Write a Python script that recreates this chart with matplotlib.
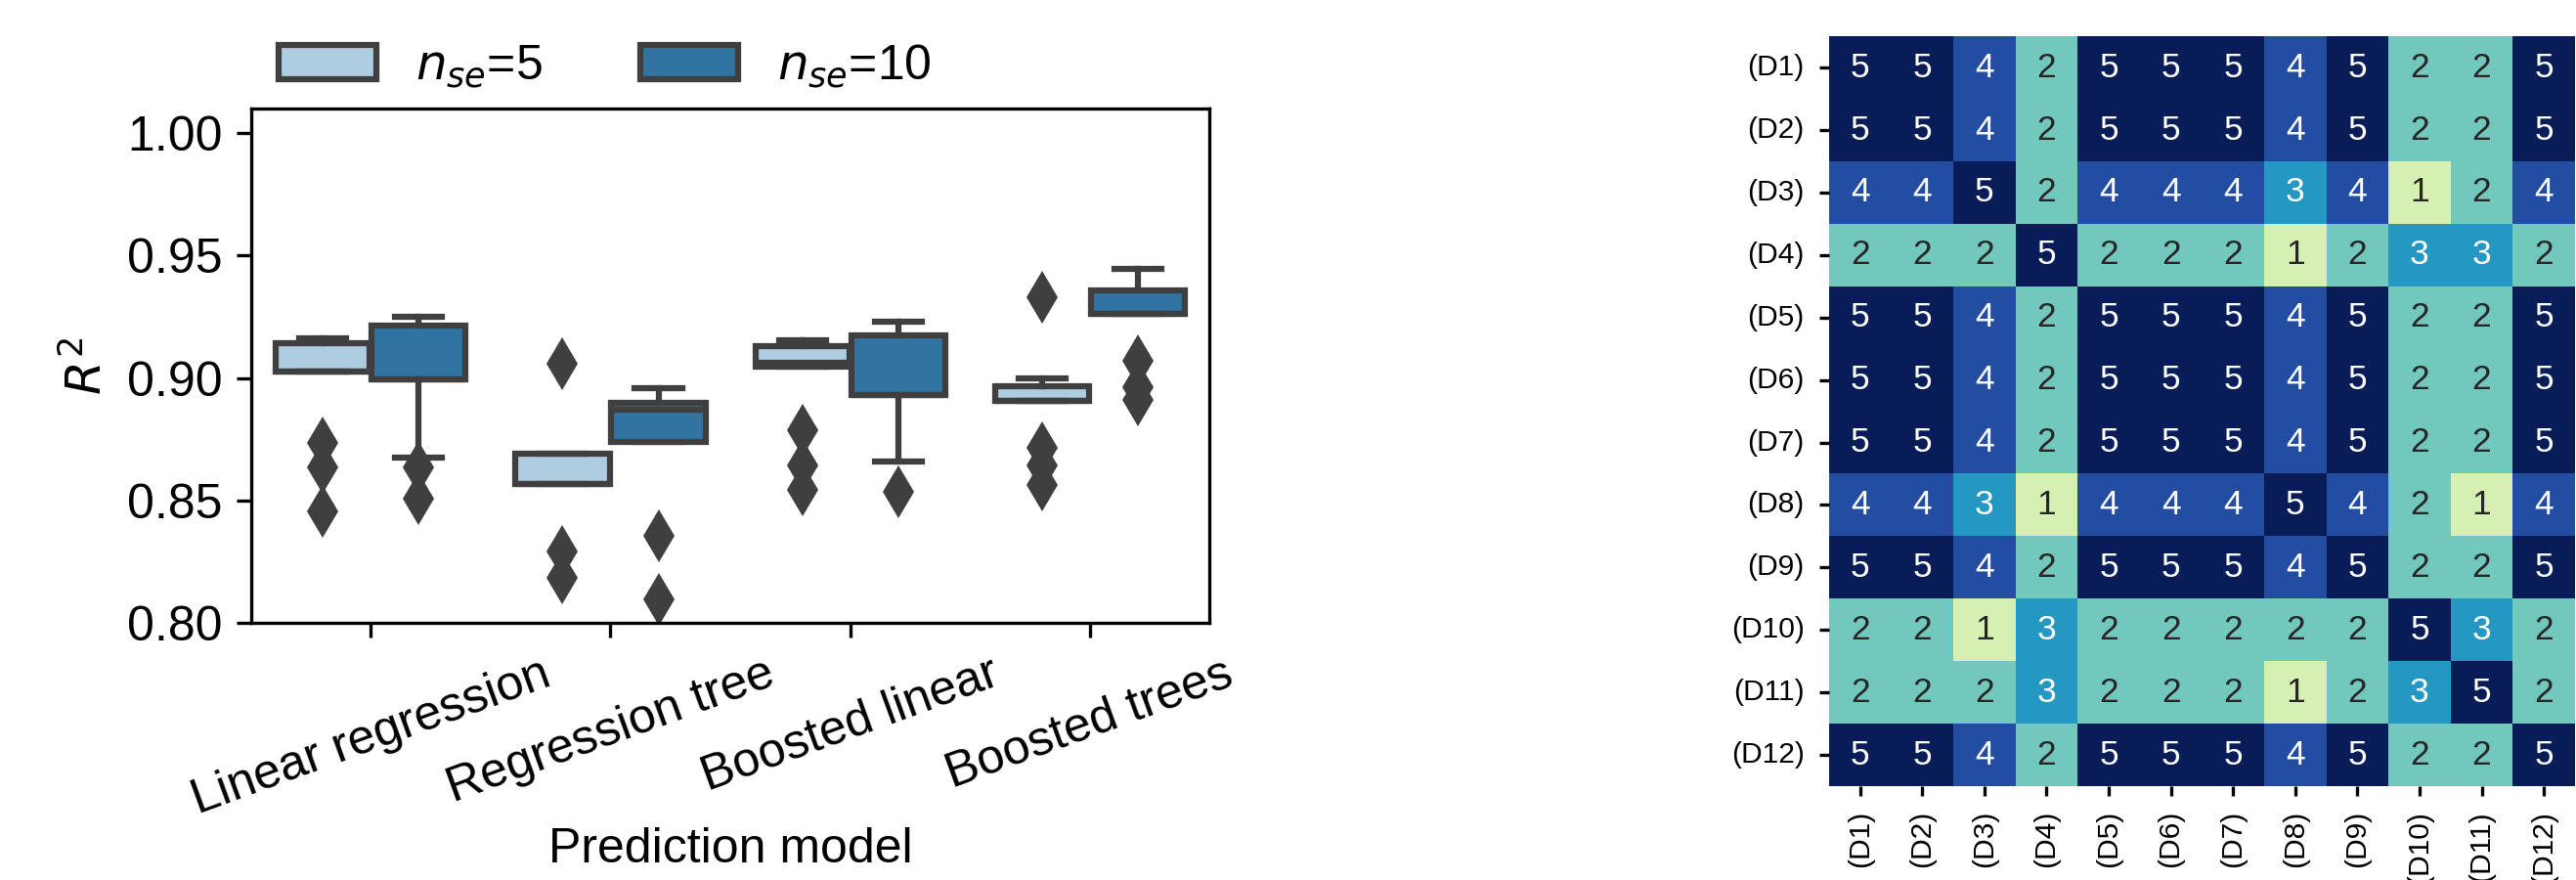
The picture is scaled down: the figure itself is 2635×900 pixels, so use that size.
import numpy as np
import matplotlib
matplotlib.use("Agg")
import matplotlib.pyplot as plt
import matplotlib.patches as mpatches
import seaborn as sns

# categories
models = ["Linear regression", "Regression tree", "Boosted linear", "Boosted trees"]
hue_labels = ["$n_{se}$=5", "$n_{se}$=10"]

# box stats for n_se=5
q1_5 = [0.9025, 0.8566, 0.9045, 0.8905]
med_5 = [0.9025, 0.8566, 0.9060, 0.8905]
q3_5 = [0.9141, 0.8692, 0.9130, 0.8967]
lo_5 = [0.9025, 0.8566, 0.9045, 0.8905]
hi_5 = [0.9161, 0.8692, 0.9155, 0.8999]
fl_5 = [[0.8735, 0.8635, 0.8457],
        [0.9056, 0.8290, 0.8185],
        [0.8785, 0.8642, 0.8542],
        [0.9330, 0.8713, 0.8642, 0.8563]]

# box stats for n_se=10
q1_10 = [0.8996, 0.8738, 0.8930, 0.9260]
med_10 = [0.8996, 0.8870, 0.8930, 0.9260]
q3_10 = [0.9215, 0.8899, 0.9173, 0.9358]
lo_10 = [0.8675, 0.8738, 0.8660, 0.9260]
hi_10 = [0.9248, 0.8959, 0.9231, 0.9444]
fl_10 = [[0.8635, 0.8506],
         [0.8357, 0.8097],
         [0.8535],
         [0.9070, 0.8963, 0.8910]]

# heatmap
datasets = ["(D1)", "(D2)", "(D3)", "(D4)", "(D5)", "(D6)",
            "(D7)", "(D8)", "(D9)", "(D10)", "(D11)", "(D12)"]
rank = np.array([
    [5, 5, 4, 2, 5, 5, 5, 4, 5, 2, 2, 5],
    [5, 5, 4, 2, 5, 5, 5, 4, 5, 2, 2, 5],
    [4, 4, 5, 2, 4, 4, 4, 3, 4, 1, 2, 4],
    [2, 2, 2, 5, 2, 2, 2, 1, 2, 3, 3, 2],
    [5, 5, 4, 2, 5, 5, 5, 4, 5, 2, 2, 5],
    [5, 5, 4, 2, 5, 5, 5, 4, 5, 2, 2, 5],
    [5, 5, 4, 2, 5, 5, 5, 4, 5, 2, 2, 5],
    [4, 4, 3, 1, 4, 4, 4, 5, 4, 2, 1, 4],
    [5, 5, 4, 2, 5, 5, 5, 4, 5, 2, 2, 5],
    [2, 2, 1, 3, 2, 2, 2, 2, 2, 5, 3, 2],
    [2, 2, 2, 3, 2, 2, 2, 1, 2, 3, 5, 2],
    [5, 5, 4, 2, 5, 5, 5, 4, 5, 2, 2, 5],
])

box_colors = ["#afcde0", "#3274a1"]
gray = "#3f3f3f"

plt.rcParams['font.family'] = ['Liberation Sans', 'DejaVu Sans']

fig = plt.figure(figsize=(2635 / 300, 900 / 300), dpi=300)

# ---- box plot
ax = fig.add_axes([0.0975, 0.2922, 0.372, 0.5845])
groups = [(q1_5, med_5, q3_5, lo_5, hi_5, fl_5), (q1_10, med_10, q3_10, lo_10, hi_10, fl_10)]
offsets = [-0.2, 0.2]
for h, (q1, med, q3, lo, hi, fl) in enumerate(groups):
    stats = []
    for i in range(len(models)):
        stats.append(dict(med=med[i], q1=q1[i], q3=q3[i], whislo=lo[i], whishi=hi[i], fliers=fl[i]))
    ax.bxp(stats, positions=np.arange(len(models)) + offsets[h], widths=0.392,
           patch_artist=True, manage_ticks=False,
           boxprops=dict(facecolor=box_colors[h], edgecolor=gray, linewidth=1.5),
           whiskerprops=dict(color=gray, linewidth=1.5),
           capprops=dict(color=gray, linewidth=1.5),
           medianprops=dict(color=gray, linewidth=1.5),
           flierprops=dict(marker='d', markerfacecolor=gray, markeredgecolor=gray,
                           markersize=9, markeredgewidth=0))

ax.set_xlim(-0.5, len(models) - 0.5)
ax.set_ylim(0.80, 1.01)
ax.set_yticks([0.80, 0.85, 0.90, 0.95, 1.00])
ax.set_yticklabels(["0.80", "0.85", "0.90", "0.95", "1.00"])
ax.set_xticks(np.arange(len(models)))
ax.set_xticklabels(models, rotation=20, ha='center')
ax.tick_params(labelsize=12)
ax.set_ylabel("$R^2$", fontsize=12)
ax.set_xlabel("Prediction model", fontsize=12, labelpad=1)

handles = [mpatches.Patch(facecolor=box_colors[k], edgecolor=gray, linewidth=1.5, label=hue_labels[k])
           for k in range(2)]
fig.legend(handles=handles, ncol=2, frameon=False, loc='center left',
           bbox_to_anchor=(0.0911, 0.925), fontsize=12)

# ---- heatmap
ax2 = fig.add_axes([0.7100, 0.1067, 0.2896, 0.852])
sns.heatmap(rank, ax=ax2, cmap='YlGnBu', vmin=0, vmax=5, annot=True, fmt='d', cbar=False,
            xticklabels=datasets, yticklabels=datasets, annot_kws={'fontsize': 8.5})
ax2.set_yticklabels(datasets, rotation=0, fontsize=7.2)
ax2.set_xticklabels(datasets, rotation=90, fontsize=7.2)
ax2.tick_params(length=2.5, width=0.8)

fig.savefig("out.png", dpi=300)
